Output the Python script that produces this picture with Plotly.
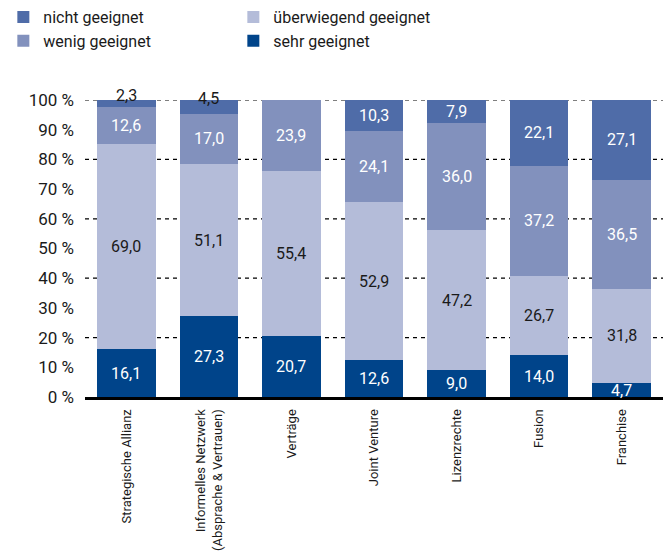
import plotly.graph_objects as go

categories = [
    "Strategische Allianz",
    "Informelles Netzwerk<br>(Absprache & Vertrauen)",
    "Verträge",
    "Joint Venture",
    "Lizenzrechte",
    "Fusion",
    "Franchise",
]
sehr_geeignet = [16.1, 27.3, 20.7, 12.6, 9.0, 14.0, 4.7]
ueberwiegend_geeignet = [69.0, 51.1, 55.4, 52.9, 47.2, 26.7, 31.8]
wenig_geeignet = [12.6, 17.0, 23.9, 24.1, 36.0, 37.2, 36.5]
nicht_geeignet = [2.3, 4.5, 0.0, 10.3, 7.9, 22.1, 27.1]
y_ticks = list(range(0, 101, 10))
y_tick_labels = [f"{v} %" for v in y_ticks]

FONT = "Roboto, Liberation Sans, sans-serif"

# stacking order bottom -> top, with legend rank and label colour
series = [
    ("sehr geeignet", sehr_geeignet, "#00448a", 4, "white"),
    ("überwiegend geeignet", ueberwiegend_geeignet, "#b4bcd9", 2, "#1a1a1a"),
    ("wenig geeignet", wenig_geeignet, "#8291bd", 3, "white"),
    ("nicht geeignet", nicht_geeignet, "#4f6ca8", 1, "white"),
]

fig = go.Figure()
for name, vals, color, rank, _ in series:
    fig.add_trace(go.Bar(
        x=categories, y=vals, name=name, marker_color=color,
        marker_line_width=0, legendrank=rank, width=0.71,
    ))

# value labels at the middle of each segment
annotations = []
base = [0.0] * len(categories)
for name, vals, color, rank, txtcol in series:
    for i, v in enumerate(vals):
        if v > 0:
            mid = base[i] + v / 2
            small_top = v < 5 and base[i] > 50
            annotations.append(dict(
                x=categories[i], y=mid, text=f"{v:.1f}".replace(".", ","),
                showarrow=False, yshift=8 if small_top else 0,
                font=dict(family=FONT, size=16,
                          color="#1a1a1a" if small_top else txtcol),
            ))
        base[i] += v

fig.update_layout(
    width=668, height=554,
    margin=dict(l=85, r=5, t=100, b=157),
    barmode="stack",
    plot_bgcolor="white", paper_bgcolor="white",
    font=dict(family=FONT, size=16, color="#1a1a1a"),
    annotations=annotations,
    legend=dict(
        orientation="h", xref="container", yref="container",
        x=0.005, y=1.0, xanchor="left", yanchor="top",
        entrywidth=185, font=dict(size=16), traceorder="normal",
        itemclick=False,
    ),
    xaxis=dict(
        showline=True, linecolor="black", linewidth=3,
        tickangle=-90, tickfont=dict(size=13), ticks="",
        range=[-0.5, 6.5], ticklabelstandoff=4, automargin=False,
    ),
    yaxis=dict(
        range=[0, 100], tickvals=y_ticks, ticktext=y_tick_labels,
        showgrid=False, zeroline=False, showline=False, ticks="",
        tickfont=dict(size=17), ticklabelstandoff=10, automargin=False,
    ),
)

# dashed gridlines every 20 %
for g in range(20, 101, 20):
    fig.add_shape(type="line", xref="paper", yref="y", x0=0, x1=1, y0=g, y1=g,
                  line=dict(color="black", width=1.2, dash="4px,4px"), layer="below")

fig.write_html("out.html")
